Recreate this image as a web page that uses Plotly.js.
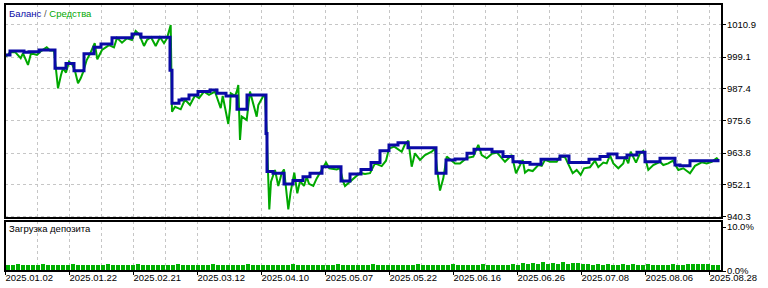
<!DOCTYPE html>
<html>
<head>
<meta charset="utf-8">
<script src="https://cdn.plot.ly/plotly-3.0.1.min.js"></script>
<style>html,body{margin:0;padding:0;background:#fff;}#chart{width:768px;height:288px;}</style>
</head>
<body>
<div id="chart"></div>
<script>
// ---- data (deal sequence index along x) ----
const balanceDeal = [
  0, 5, 19, 24, 34, 50, 61, 69, 79, 89,
  96, 107, 127, 136, 165, 167, 174, 177, 184, 193,
  205, 212, 221, 232, 242, 261, 262, 268, 279, 288,
  298, 305, 317, 336, 345, 356, 366, 375, 384, 393,
  403, 431, 441, 450, 462, 469, 487, 498, 508, 515,
  525, 536, 555, 564, 584, 595, 603, 612, 622, 632,
  640, 655, 670, 675, 685, 713
];
const balance = [
  999.9, 1001.3, 1000.9, 1001.1, 1001.7, 995.0, 996.7, 994.1, 1000.3, 1002.7,
  1003.9, 1006.2, 1007.6, 1006.4, 994.3, 982.1, 983.3, 983.7, 985.2, 986.4,
  987.0, 985.8, 984.8, 979.9, 985.2, 971.0, 957.0, 956.4, 952.4, 953.7,
  955.1, 956.4, 958.8, 953.5, 956.1, 957.8, 960.3, 964.7, 966.8, 967.6,
  965.8, 956.4, 961.3, 961.6, 963.7, 965.2, 964.3, 962.5, 960.6, 960.3,
  959.7, 961.5, 962.7, 960.3, 961.5, 962.5, 963.5, 962.1, 963.1, 964.1,
  960.6, 961.9, 959.4, 959.1, 961.0, 961.6
];
const equityDeal = [
  0, 3, 5, 10, 15.7, 18, 23, 26, 32, 36,
  41.7, 45, 49, 51, 53, 56, 58, 61, 64, 67,
  70, 73, 75.7, 78, 81.7, 85, 89.7, 92.3, 97, 104,
  109, 112, 117, 122, 127, 130.7, 134, 139, 142, 146,
  150.7, 155, 159, 162, 165.7, 167, 170, 175.7, 180, 185,
  190, 194, 199, 204, 210, 215.7, 217.7, 223.3, 225, 225.7,
  230, 231.7, 233.3, 235, 236.7, 241.7, 243.3, 245, 251.7, 253.3,
  258.3, 260, 261.7, 264.3, 266, 270, 273.3, 276.7, 279, 281.7,
  283.3, 285.7, 289.3, 292.3, 295, 299, 301.7, 304, 308.3, 311.7,
  316.7, 321, 324.3, 331.7, 335, 338, 340, 345, 350, 355,
  360, 365, 370, 376.7, 381, 384, 389.3, 396.7, 400, 403.3,
  406.7, 410, 415, 420, 426.7, 430, 432, 435, 438.3, 441.7,
  445, 450, 455, 461.7, 468.3, 473.3, 476.7, 481.7, 486.7, 492,
  500, 505, 506.7, 511, 515, 517.7, 520, 523.3, 527.7, 533.3,
  536.7, 540, 545, 551.7, 555, 560, 567.7, 571.7, 575.7, 579,
  585, 590, 593.3, 598.3, 601.7, 605, 608.3, 613.3, 618.3, 620,
  623.3, 625.7, 631, 635, 638.3, 643.3, 648.3, 655, 658.3, 663.3,
  668, 673.3, 678.3, 685, 690, 696.7, 701.7, 706.7, 711.7, 713
];
const equity = [
  999.3, 999.9, 1000.9, 1001.0, 998.7, 1000.5, 996.2, 1000.5, 999.9, 1001.3,
  1002.7, 1001.5, 1001.5, 995.0, 987.6, 992.5, 995.0, 993.4, 997.4, 996.5,
  994.0, 989.5, 991.3, 993.5, 998.0, 1000.3, 1004.2, 998.3, 1001.7, 1003.5,
  1002.7, 1006.2, 1004.4, 1006.0, 1005.4, 1008.7, 1007.6, 1003.2, 1005.4, 1006.4,
  1003.2, 1006.4, 1004.2, 1006.0, 1010.9, 979.0, 980.8, 979.9, 983.5, 981.5,
  985.0, 984.0, 986.4, 985.2, 986.4, 980.3, 984.8, 974.5, 980.3, 985.8,
  984.8, 986.4, 988.8, 968.6, 977.2, 976.0, 982.0, 986.4, 977.2, 981.5,
  984.8, 984.8, 971.2, 943.1, 953.3, 957.6, 951.7, 956.4, 957.8, 948.0,
  943.1, 949.6, 956.6, 949.0, 953.5, 951.7, 955.1, 952.5, 951.7, 954.5,
  957.5, 960.3, 958.2, 957.8, 958.3, 953.5, 951.7, 953.3, 955.1, 956.5,
  956.1, 956.4, 960.0, 959.0, 961.0, 965.5, 966.2, 964.3, 967.0, 968.4,
  958.8, 963.7, 961.3, 963.1, 964.3, 965.5, 958.0, 950.0, 954.5, 962.5,
  961.5, 960.0, 960.0, 962.0, 962.5, 966.8, 963.1, 961.9, 963.5, 964.0,
  960.6, 962.2, 963.1, 956.4, 959.4, 961.3, 956.6, 957.6, 957.2, 959.4,
  959.1, 961.3, 960.6, 960.6, 962.5, 962.3, 956.4, 957.6, 955.8, 958.2,
  958.6, 961.0, 958.6, 960.3, 960.0, 963.0, 960.0, 958.2, 960.0, 962.5,
  960.0, 964.3, 960.3, 963.7, 964.6, 957.6, 959.4, 960.6, 959.4, 960.0,
  961.0, 957.6, 958.2, 956.4, 959.1, 960.4, 960.0, 960.6, 961.9, 961.6
];
// deposit load, percent, one bar per slot
const depositLoad = [
  1.4,1.4,1.5,1.4,1.4,1.4,1.4,1.5,1.4,1.4,
  1.4,1.4,1.4,1.5,1.4,1.4,1.4,1.4,1.4,1.4,
  1.5,1.4,1.4,1.4,1.4,1.4,1.5,1.4,1.4,1.4,
  1.4,1.4,1.4,1.4,1.5,1.4,1.4,1.4,1.4,1.4,
  1.4,1.5,1.4,1.4,1.4,1.4,1.4,1.4,1.5,1.4,
  1.4,1.4,1.4,1.4,1.4,1.4,1.4,1.5,1.4,1.4,
  1.4,1.4,1.4,1.4,1.4,1.4,1.5,1.4,1.4,1.4,
  1.4,1.4,1.4,1.5,1.4,1.4,1.4,1.4,1.4,1.4,
  1.4,1.4,1.5,1.4,1.4,1.4,1.4,1.4,1.4,1.5,
  1.4,1.4,1.4,1.4,1.4,1.5,1.4,1.4,1.4,1.4,
  1.4,1.5,1.4,1.8,1.6,1.9,1.5,2.0,1.6,1.9,
  1.7,2.0,1.6,1.8,1.9,1.6,1.5,1.4,1.7,1.4,
  1.5,1.4,1.4,1.6,1.4,1.5,1.4,1.4,1.5,1.4,
  1.4,1.4,1.4,1.5,1.4,1.4,1.6,1.7,1.6,1.5,
  1.5,1.4,1.4
];
const loadSlot = depositLoad.map((v, i) => 3 + 5 * i);

const yTicks = [940.3, 952.1, 963.8, 975.6, 987.4, 999.1, 1010.9];
const yTickText = ['940.3', '952.1', '963.8', '975.6', '987.4', '999.1', '1010.9'];
const dateTicks = [0, 64, 128, 192, 256, 320, 384, 448, 512, 576, 640, 704];
const dateLabels = ['2025.01.02', '2025.01.22', '2025.02.21', '2025.03.12', '2025.04.10', '2025.05.07',
                    '2025.05.22', '2025.06.16', '2025.06.26', '2025.07.08', '2025.08.06', '2025.08.28'];
const loadTicks = [0, 10];
const loadTickText = ['0.0%', '10.0%'];

// ---- styles ----
const BLUE = '#0a0aa6';
const GREEN = '#00a800';
const GRID = '#c6c6c6';
const FONT = 'Liberation Sans, Arial, sans-serif';
const mainBottom = 0.1985, lowTop = 0.1873;

const traces = [
  {x: equityDeal, y: equity, type: 'scatter', mode: 'lines', xaxis: 'x', yaxis: 'y',
   line: {color: GREEN, width: 2}, hoverinfo: 'skip'},
  {x: balanceDeal, y: balance, type: 'scatter', mode: 'lines', xaxis: 'x', yaxis: 'y',
   line: {color: BLUE, width: 3, shape: 'hv'}, hoverinfo: 'skip'},
  {x: loadSlot, y: depositLoad, type: 'bar', xaxis: 'x2', yaxis: 'y2', width: 4,
   marker: {color: '#00b000', opacity: 1, line: {width: 0}}, hoverinfo: 'skip'}
];

const layout = {
  width: 768, height: 288,
  margin: {l: 5, r: 46, t: 4, b: 17, pad: 0},
  paper_bgcolor: '#fff', plot_bgcolor: '#fff',
  showlegend: false, bargap: 0,
  font: {family: FONT, size: 9.5, color: '#000'},
  xaxis: {domain: [0, 1], anchor: 'y', range: [0, 717], tickmode: 'linear', tick0: 0, dtick: 32,
          showgrid: true, gridcolor: GRID, griddash: '3px,3px', gridwidth: 1,
          showticklabels: false, ticks: '', zeroline: false, showline: false, fixedrange: true},
  xaxis2: {domain: [0, 1], anchor: 'y2', range: [0, 717], tickmode: 'array', tickvals: dateTicks, ticktext: dateLabels,
           ticklabelposition: 'outside right', ticks: 'outside', ticklen: 3, tickcolor: '#000', tickwidth: 1,
           showgrid: true, gridcolor: GRID, griddash: '3px,3px', gridwidth: 1,
           minor: {tickmode: 'linear', tick0: 0, dtick: 32, showgrid: true, gridcolor: GRID, griddash: '3px,3px', gridwidth: 1, ticks: ''},
           zeroline: false, showline: false, fixedrange: true, tickfont: {size: 9.5}, ticklabelstandoff: -2},
  yaxis: {domain: [mainBottom, 1], anchor: 'x', side: 'right', range: [939.93, 1018.62],
          tickmode: 'array', tickvals: yTicks, ticktext: yTickText,
          ticks: 'outside', ticklen: 3, tickcolor: '#000', tickwidth: 1, ticklabelstandoff: -1,
          showgrid: true, gridcolor: GRID, griddash: '3px,3px', gridwidth: 1,
          zeroline: false, showline: false, fixedrange: true},
  yaxis2: {domain: [0, lowTop], anchor: 'x2', side: 'right', range: [0, 11.4],
           tickmode: 'array', tickvals: loadTicks, ticktext: loadTickText,
           ticks: 'outside', ticklen: 3, tickcolor: '#000', tickwidth: 1, ticklabelstandoff: -1,
           showgrid: false, zeroline: false, showline: false, fixedrange: true},
  shapes: [
    {type: 'rect', xref: 'paper', yref: 'paper', x0: 0, x1: 1, y0: mainBottom, y1: 1,
     line: {color: '#000', width: 2}, fillcolor: 'rgba(0,0,0,0)', layer: 'above'},
    {type: 'rect', xref: 'paper', yref: 'paper', x0: 0, x1: 1, y0: 0, y1: lowTop,
     line: {color: '#000', width: 2}, fillcolor: 'rgba(0,0,0,0)', layer: 'above'}
  ],
  annotations: [
    {xref: 'paper', yref: 'paper', x: 0, y: 1, xanchor: 'left', yanchor: 'top', xshift: 2, yshift: -2,
     showarrow: false, font: {family: FONT, size: 9.5},
     text: '<span style="color:' + BLUE + '">Баланс</span><span style="color:#555"> / </span><span style="color:' + GREEN + '">Средства</span>'},
    {xref: 'paper', yref: 'paper', x: 0, y: lowTop, xanchor: 'left', yanchor: 'top', xshift: 2, yshift: 0,
     showarrow: false, font: {family: FONT, size: 9.5, color: '#000'}, text: 'Загрузка депозита'}
  ]
};

Plotly.newPlot('chart', traces, layout, {staticPlot: true, displayModeBar: false});
</script>
</body>
</html>
